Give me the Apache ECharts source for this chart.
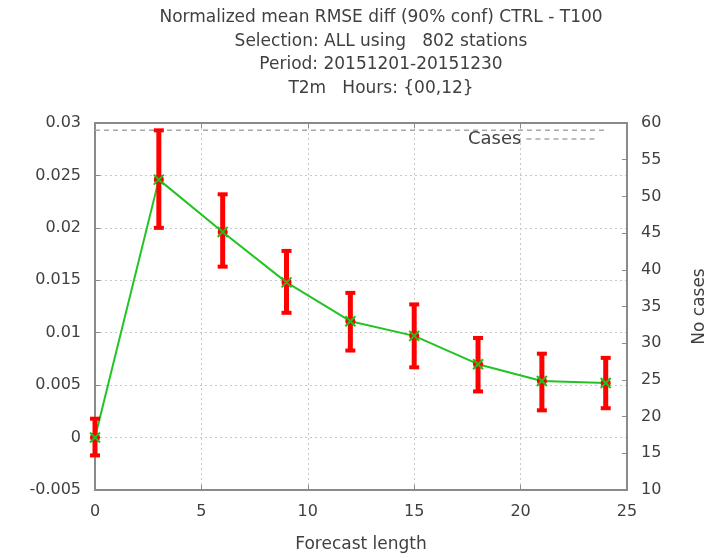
<!DOCTYPE html>
<html>
<head>
<meta charset="utf-8">
<script src="https://cdn.jsdelivr.net/npm/echarts@6/dist/echarts.min.js"></script>
<style>html,body{margin:0;padding:0;background:#fff}#c{width:716px;height:558px}</style>
</head>
<body>
<div id="c"></div>
<script>
var titleLines = [
  'Normalized mean RMSE diff (90% conf) CTRL - T100',
  'Selection: ALL using   802 stations',
  'Period: 20151201-20151230',
  'T2m   Hours: {00,12}'
];
var forecastLength = [0, 3, 6, 9, 12, 15, 18, 21, 24];
var meanDiff = [0.0000, 0.0246, 0.0196, 0.0148, 0.0111, 0.0097, 0.0070, 0.0054, 0.0052];
var upperConf = [0.0018, 0.0293, 0.0232, 0.0178, 0.0138, 0.0127, 0.0095, 0.0080, 0.0076];
var lowerConf = [-0.0017, 0.0200, 0.0163, 0.0119, 0.0083, 0.0067, 0.0044, 0.0026, 0.0028];
var cases = [59, 59, 59, 59, 59, 59, 59, 59, 59];
var leftTicks = ['-0.005', '0', '0.005', '0.01', '0.015', '0.02', '0.025', '0.03'];

var txt = '#404040';
var axisCol = '#8a8a8a';
var font = 'DejaVu Sans';

var lineData = forecastLength.map(function (x, i) { return [x, meanDiff[i]]; });
var errData = forecastLength.map(function (x, i) { return [x, lowerConf[i], upperConf[i], meanDiff[i]]; });
var casesData = forecastLength.map(function (x, i) { return [x, cases[i]]; });

var chart = echarts.init(document.getElementById('c'), null, {renderer: 'canvas'});
chart.setOption({
  backgroundColor: '#fff',
  animation: false,
  textStyle: {fontFamily: font, color: txt},
  title: {
    text: titleLines.join('\n'),
    left: 376, textAlign: 'center', top: 1, padding: [5, 5],
    textStyle: {fontFamily: font, fontWeight: 'normal', fontSize: 17, color: txt, lineHeight: 23.5}
  },
  legend: {
    data: ['Cases'],
    left: 463, top: 125,
    align: 'right',
    itemWidth: 70, itemHeight: 12,
    itemStyle: {opacity: 0},
    lineStyle: {color: '#a8a8a8', width: 1.5, type: [5, 4]},
    textStyle: {fontFamily: font, fontSize: 18, color: txt}
  },
  grid: {left: 95, right: 89, top: 123, bottom: 68, containLabel: false, outerBoundsMode: 'none'},
  xAxis: [{
    type: 'value', min: 0, max: 25, interval: 5,
    name: 'Forecast length', nameLocation: 'middle', nameGap: 46,
    nameTextStyle: {fontFamily: font, fontSize: 17, color: txt},
    axisLine: {show: true, onZero: false, lineStyle: {color: axisCol, width: 2}},
    axisTick: {show: true, inside: true, length: 5, lineStyle: {color: axisCol}},
    axisLabel: {fontFamily: font, fontSize: 16, color: txt, margin: 14},
    splitLine: {show: true, lineStyle: {color: '#c8c8c8', type: [2, 3], width: 1}}
  }, {
    type: 'value', min: 0, max: 25, interval: 5, position: 'top',
    axisLine: {show: true, onZero: false, lineStyle: {color: axisCol, width: 2}},
    axisTick: {show: true, inside: true, length: 5, lineStyle: {color: axisCol}},
    axisLabel: {show: false}, splitLine: {show: false}
  }],
  yAxis: [{
    type: 'value', min: -0.005, max: 0.03, interval: 0.005,
    axisLine: {show: true, onZero: false, lineStyle: {color: axisCol, width: 2}},
    axisTick: {show: true, inside: true, length: 5, lineStyle: {color: axisCol}},
    axisLabel: {fontFamily: font, fontSize: 16, color: txt, margin: 14,
      formatter: function (v) { return leftTicks[Math.round((v + 0.005) / 0.005)]; }},
    splitLine: {show: true, lineStyle: {color: '#c8c8c8', type: [2, 3], width: 1}}
  }, {
    type: 'value', min: 10, max: 60, interval: 5, position: 'right',
    name: 'No cases', nameLocation: 'middle', nameGap: 64, nameRotate: 90,
    nameTextStyle: {fontFamily: font, fontSize: 17, color: txt},
    axisLine: {show: true, onZero: false, lineStyle: {color: axisCol, width: 2}},
    axisTick: {show: true, inside: true, length: 5, lineStyle: {color: axisCol}},
    axisLabel: {fontFamily: font, fontSize: 16, color: txt, margin: 14},
    splitLine: {show: false}
  }],
  series: [
    {
      name: 'Cases', type: 'line', yAxisIndex: 1, data: casesData,
      symbol: 'none', silent: true,
      lineStyle: {color: '#a8a8a8', width: 1.5, type: [5, 4]},
      itemStyle: {color: '#a8a8a8'}
    },
    {
      name: 'mean', type: 'line', data: lineData, symbol: 'none',
      lineStyle: {color: '#22c322', width: 2}, z: 3
    },
    {
      name: 'err', type: 'custom', data: errData, z: 4,
      renderItem: function (params, api) {
        var x = api.value(0);
        var lo = api.coord([x, api.value(1)]);
        var hi = api.coord([x, api.value(2)]);
        var mid = api.coord([x, api.value(3)]);
        var cw = 5, red = '#ff0000';
        var st = {stroke: red, lineWidth: 5};
        var cap = {stroke: red, lineWidth: 4};
        var g = {stroke: '#1fbf1f', lineWidth: 2};
        var m = 5;
        return {
          type: 'group',
          children: [
            {type: 'line', shape: {x1: lo[0], y1: lo[1], x2: hi[0], y2: hi[1]}, style: st},
            {type: 'line', shape: {x1: lo[0] - cw, y1: lo[1], x2: lo[0] + cw, y2: lo[1]}, style: cap},
            {type: 'line', shape: {x1: hi[0] - cw, y1: hi[1], x2: hi[0] + cw, y2: hi[1]}, style: cap},
            {type: 'circle', shape: {cx: mid[0], cy: mid[1], r: 5}, style: {fill: red}},
            {type: 'line', shape: {x1: mid[0] - m, y1: mid[1] - m, x2: mid[0] + m, y2: mid[1] + m}, style: g},
            {type: 'line', shape: {x1: mid[0] - m, y1: mid[1] + m, x2: mid[0] + m, y2: mid[1] - m}, style: g}
          ]
        };
      }
    }
  ]
});
</script>
</body>
</html>
